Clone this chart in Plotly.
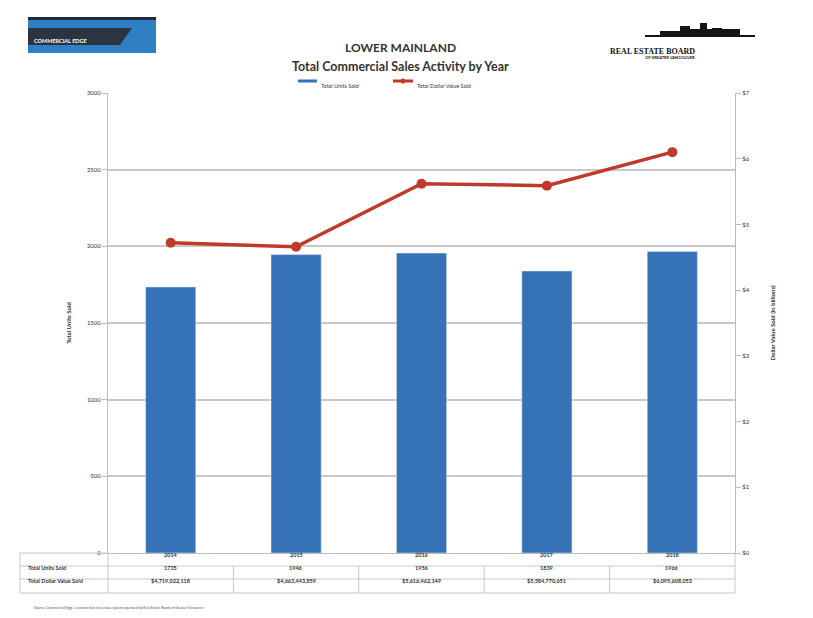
import plotly.graph_objects as go

years = ["2014", "2015", "2016", "2017", "2018"]
units_sold = [1735, 1946, 1956, 1839, 1966]
dollar_value_b = [4.72, 4.66, 5.62, 5.59, 6.10]
dollar_value_text = ["$4,719,022,118", "$4,663,443,859", "$5,616,462,149",
                     "$5,584,770,651", "$6,095,608,053"]
left_ticks = [0, 500, 1000, 1500, 2000, 2500, 3000]
right_ticks = [0, 1, 2, 3, 4, 5, 6, 7]
right_tick_labels = ["$0", "$1", "$2", "$3", "$4", "$5", "$6", "$7"]
series_names = ["Total Units Sold", "Total Dollar Value Sold"]

BAR = "#3572b6"
LINE = "#bf3a2b"
FONT = "Lato"

fig = go.Figure()
fig.add_trace(go.Bar(x=years, y=units_sold, name=series_names[0],
                     marker_color=BAR, width=0.4))
fig.add_trace(go.Scatter(x=years, y=dollar_value_b, name=series_names[1],
                         yaxis="y2", mode="lines+markers",
                         line=dict(color=LINE, width=3.5),
                         marker=dict(color=LINE, size=10)))

fig.update_layout(
    width=813, height=618,
    margin=dict(l=100, r=86, t=85, b=73, autoexpand=False),
    paper_bgcolor="white", plot_bgcolor="white",
    font=dict(family=FONT, color="#222"),
    showlegend=False,
    xaxis=dict(type="category", showticklabels=False, showline=True,
               linecolor="#bbb", linewidth=1, showgrid=False, zeroline=False),
    yaxis=dict(range=[0, 3000], tickvals=left_ticks, showgrid=True,
               gridcolor="#c8c8c8", gridwidth=1.5, showline=True, linecolor="#bbb",
               ticks="outside", ticklen=5, tickcolor="#bbb",
               tickfont=dict(size=6, color="#333"), zeroline=False,
               title=dict(text="<b>Total Units Sold</b>", font=dict(size=6, color="#333"),
                          standoff=14)),
    yaxis2=dict(range=[0, 7], tickvals=right_ticks, ticktext=right_tick_labels,
                overlaying="y", side="right", showgrid=False, showline=True,
                linecolor="#bbb", ticks="outside", ticklen=5, tickcolor="#bbb",
                tickfont=dict(size=6, color="#333"), zeroline=False,
                title=dict(text="<b>Dollar Value Sold (in billions)</b>",
                           font=dict(size=6, color="#333"), standoff=22)),
)


def py(pix):
    return (553 - pix) / 460


def px(pix):
    return (pix - 108) / 627


annots = []
annots.append(dict(text="<b>LOWER MAINLAND</b>", xref="paper", yref="paper",
                   x=px(400), y=py(38), showarrow=False,
                   font=dict(size=12, color="#333", family=FONT)))
annots.append(dict(text="<b>Total Commercial Sales Activity by Year</b>", xref="paper",
                   yref="paper", x=px(400), y=py(57), showarrow=False,
                   font=dict(size=12.5, color="#333", family=FONT)))

# Custom legend
shapes = []
shapes.append(dict(type="line", xref="paper", yref="paper", x0=px(298), x1=px(317),
                   y0=py(81), y1=py(81), line=dict(color=BAR, width=3)))
shapes.append(dict(type="line", xref="paper", yref="paper", x0=px(393), x1=px(413),
                   y0=py(81), y1=py(81), line=dict(color=LINE, width=3)))
shapes.append(dict(type="circle", xref="paper", yref="paper", x0=px(400.5), x1=px(405.5),
                   y0=py(83.5), y1=py(78.5), fillcolor=LINE, line=dict(width=0)))
annots.append(dict(text=series_names[0], xref="paper", yref="paper", x=px(319), y=py(81),
                   xanchor="left", showarrow=False, font=dict(size=5.5, color="#333")))
annots.append(dict(text=series_names[1], xref="paper", yref="paper", x=px(415), y=py(81),
                   xanchor="left", showarrow=False, font=dict(size=5.5, color="#333")))

# Table rows
row_y = [560, 572.5, 586]
row_labels = ["", "Total Units Sold", "Total Dollar Value Sold"]
for lab, yv in zip(row_labels, row_y):
    if lab:
        annots.append(dict(text="<b>" + lab + "</b>", xref="paper", yref="paper",
                           x=px(26), y=py(yv), xanchor="left", showarrow=False,
                           font=dict(size=5.5, color="#333")))
for i, yr in enumerate(years):
    annots.append(dict(text="<b>" + yr + "</b>", xref="x", yref="paper", x=i, y=py(row_y[0]),
                       showarrow=False, font=dict(size=5.5, color="#333")))
    annots.append(dict(text="<b>" + f"{units_sold[i]}" + "</b>", xref="x", yref="paper",
                       x=i, y=py(row_y[1]), showarrow=False,
                       font=dict(size=5.5, color="#333")))
    annots.append(dict(text="<b>" + dollar_value_text[i] + "</b>", xref="x", yref="paper",
                       x=i, y=py(row_y[2]), showarrow=False,
                       font=dict(size=5.5, color="#333")))

annots.append(dict(text="Source: Commercial Edge, a commercial real estate system operated by Real Estate Board of Greater Vancouver",
                   xref="paper", yref="paper", x=px(32), y=py(612), xanchor="left",
                   showarrow=False, font=dict(size=3.5, color="#555")))

# Logos
annots.append(dict(text="<b>COMMERCIAL EDGE</b>", xref="paper", yref="paper",
                   x=px(32), y=py(36), xanchor="left", showarrow=False,
                   font=dict(size=5.5, color="white")))
annots.append(dict(text="<b>REAL ESTATE BOARD</b>", xref="paper", yref="paper",
                   x=px(697), y=py(45), showarrow=False,
                   font=dict(size=8, color="#111", family="Liberation Serif")))
annots.append(dict(text="<b>OF GREATER VANCOUVER</b>", xref="paper", yref="paper",
                   x=px(697), y=py(53), showarrow=False,
                   font=dict(size=4, color="#111")))

line_c = "#c8c8c8"
for yy in [566, 579, 593]:
    shapes.append(dict(type="line", xref="paper", yref="paper", x0=px(20), x1=1,
                       y0=py(yy), y1=py(yy), line=dict(color=line_c, width=1)))
shapes.append(dict(type="line", xref="paper", yref="paper", x0=px(20), x1=0,
                   y0=py(553), y1=py(553), line=dict(color=line_c, width=1)))
for xx, top in [(px(20), 553), (0, 553), (0.2, 566), (0.4, 566), (0.6, 566),
                (0.8, 566), (1.0, 553)]:
    shapes.append(dict(type="line", xref="paper", yref="paper", x0=xx, x1=xx,
                       y0=py(top), y1=py(593), line=dict(color=line_c, width=1)))
# left logo box
shapes.append(dict(type="rect", xref="paper", yref="paper", x0=px(28), x1=px(156),
                   y0=py(53), y1=py(17), fillcolor="#2e7fc4", line=dict(width=0)))
shapes.append(dict(type="rect", xref="paper", yref="paper", x0=px(28), x1=px(156),
                   y0=py(20), y1=py(17), fillcolor="#1f2a3a", line=dict(width=0)))
shapes.append(dict(type="path", xref="paper", yref="paper",
                   path=f"M {px(28)},{py(28)} L {px(132)},{py(28)} L {px(120)},{py(45)} L {px(28)},{py(45)} Z",
                   fillcolor="#2b3440", line=dict(width=0)))
# right logo skyline
sky = [(645, 35, 755), (660, 31, 700), (680, 26, 690), (700, 23, 707), (712, 28, 722),
       (725, 30, 735), (690, 29, 740)]
for x0, yt, x1 in sky:
    shapes.append(dict(type="rect", xref="paper", yref="paper", x0=px(x0), x1=px(x1),
                       y0=py(37), y1=py(yt), fillcolor="#151515", line=dict(width=0)))

fig.update_layout(annotations=annots, shapes=shapes)

fig.write_html("out.html")
